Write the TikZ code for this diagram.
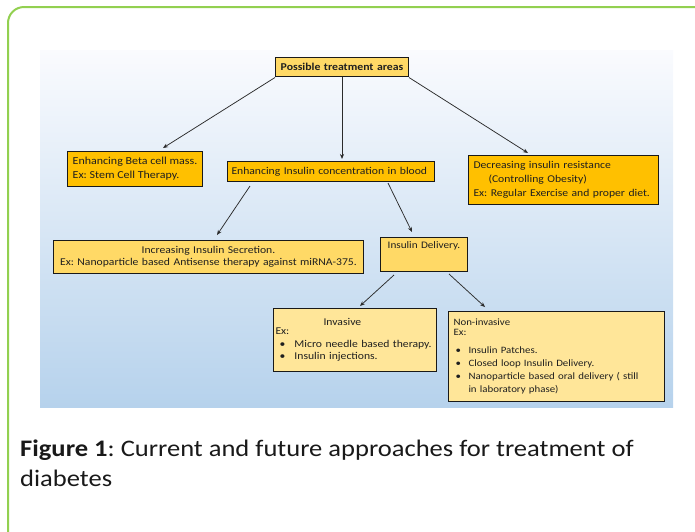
\documentclass[tikz,border=0pt]{standalone}
\usepackage{fontspec}
\setmainfont{Carlito}[FakeStretch=1.12]
\usetikzlibrary{arrows.meta,calc}
\definecolor{amberc}{HTML}{FFC000}
\definecolor{goldc}{HTML}{FFD966}
\definecolor{palec}{HTML}{FFE699}
\definecolor{framec}{HTML}{92D050}
\definecolor{bgtop}{HTML}{FAFBFE}
\definecolor{bgmid}{HTML}{D8E6F4}
\definecolor{bgbot}{HTML}{B6D2EC}
\definecolor{linec}{HTML}{2B2B2B}
\newcommand{\bulA}[1]{\hspace*{4pt}\makebox[15pt][l]{\textbullet}#1}
\newcommand{\bulB}[1]{\hspace*{2pt}\makebox[13pt][l]{\textbullet}#1}
\frenchspacing
\begin{document}
\begin{tikzpicture}[x=1pt,y=-1pt,
  box/.style={draw=black!90, line width=1pt, inner xsep=4pt, inner ysep=2pt,
    anchor=north west, align=left, text=black!88,
    font=\fontsize{10.4}{14}\selectfont},
  amber/.style={box, fill=amberc},
  gold/.style={box, fill=goldc},
  pale/.style={box, fill=palec},
  arr/.style={draw=linec, line width=0.75pt, -{Stealth[length=5pt,width=4pt]}}]
\useasboundingbox (0,0) rectangle (695,531);
\begin{scope}
  \clip (0,0) rectangle (695,531);
  \draw[framec, line width=2pt, rounded corners=16pt] (8,7) rectangle (712,548);
\end{scope}
\shade[top color=bgtop, middle color=bgmid, bottom color=bgbot] (40,50) rectangle (673,407);

\node[gold, align=center, minimum width=133pt, minimum height=19pt, text width=125pt,
  font=\fontsize{10.5}{12}\selectfont\bfseries] (top) at (275,57) {Possible treatment areas};
\node[amber, minimum width=135pt, minimum height=35pt, inner xsep=2pt,
  font=\fontsize{10.7}{14}\selectfont] (beta) at (67,151)
  {Enhancing Beta cell mass.\\Ex: Stem Cell Therapy.};
\node[amber, minimum width=207pt, minimum height=20pt, text width=199pt] (enh) at (227,161)
  {Enhancing Insulin concentration in blood};
\node[amber, minimum width=188pt, minimum height=49pt, text width=180pt, inner xsep=5pt] (dec) at (468,155)
  {Decreasing insulin resistance\\\hspace*{15pt}(Controlling Obesity)\\Ex: Regular Exercise and proper diet.};
\node[gold, align=center, minimum width=310pt, minimum height=33pt, text width=302pt,
  font=\fontsize{10.4}{12.5}\selectfont] (inc) at (53,240)
  {Increasing Insulin Secretion.\\Ex: Nanoparticle based Antisense therapy against miRNA-375.};
\node[gold, align=center, minimum width=87pt, minimum height=34pt, text width=79pt,
  font=\fontsize{10}{12}\selectfont,
  text height=8pt, text depth=21pt] (del) at (380,237) {Insulin Delivery.};
\node[pale, minimum width=163pt, minimum height=63pt, text width=159pt, inner xsep=2pt,
  font=\fontsize{10.4}{12.5}\selectfont] (inv) at (273,308)
  {\hspace*{48pt}Invasive\\[-3.5pt]Ex:\\\bulA{Micro needle based therapy.}\\\bulA{Insulin injections.}};
\node[pale, minimum width=216pt, minimum height=90pt, text width=206pt, inner xsep=5pt,
  font=\fontsize{9.7}{13}\selectfont] (non) at (448,311)
  {Non-invasive\\[-3pt]Ex:\\[5pt]\bulB{Insulin Patches.}\\\bulB{Closed loop Insulin Delivery.}\\
   \bulB{Nanoparticle based oral delivery ( still}\\\hspace*{15pt}in laboratory phase)};

\draw[arr] ([yshift=-0.5pt]top.south west) -- ([xshift=96pt,yshift=3pt]beta.north west);
\draw[arr, shorten >=2pt] (top.south) -- (top.south |- enh.north);
\draw[arr] ([yshift=-0.5pt]top.south east) -- ([xshift=60pt,yshift=2pt]dec.north west);
\draw[arr] ([xshift=23pt,yshift=-4pt]enh.south west) -- ([xshift=164pt,yshift=5pt]inc.north west);
\draw[arr] ([xshift=-47pt,yshift=-1pt]enh.south east) -- ([xshift=32pt,yshift=5pt]del.north west);
\draw[arr] ([xshift=14pt,yshift=-3pt]del.south west) -- ([xshift=87pt,yshift=2pt]inv.north west);
\draw[arr] ([xshift=-19pt,yshift=-2pt]del.south east) -- ([xshift=37pt,yshift=4pt]non.north west);

\node[anchor=north west, align=left, inner sep=0pt, text=black!90,
  font=\fontsize{23.7}{30}\selectfont] (cap) at (20,440)
  {\textbf{Figure 1}: Current and future approaches for treatment of\\diabetes};
\end{tikzpicture}
\end{document}
